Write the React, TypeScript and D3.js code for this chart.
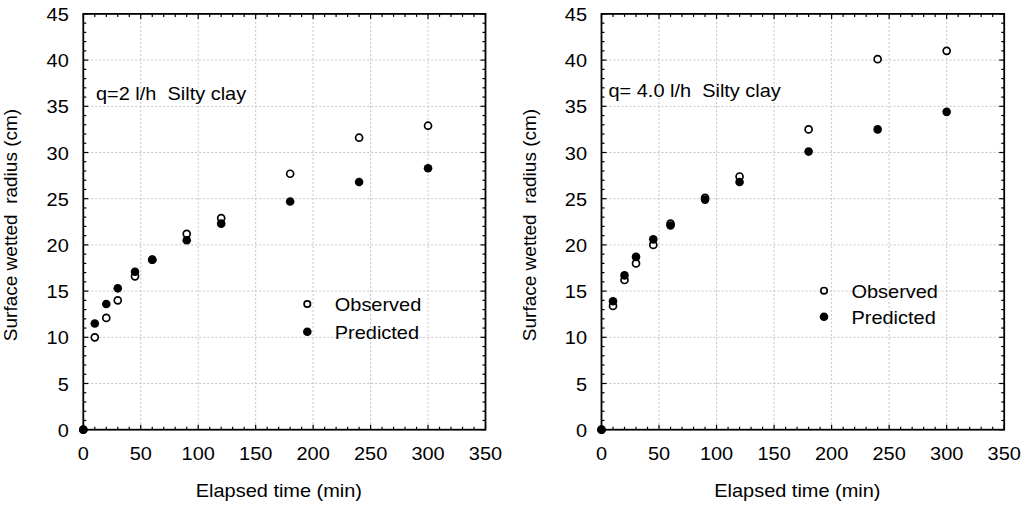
import React from "react";
import * as d3 from "d3";

const times = [0, 10, 20, 30, 45, 60, 90, 120, 180, 240, 300];
const obsLeft = [0, 10.0, 12.1, 14.0, 16.6, 18.4, 21.2, 22.9, 27.7, 31.6, 32.9];
const predLeft = [0, 11.5, 13.6, 15.3, 17.1, 18.4, 20.5, 22.3, 24.7, 26.8, 28.3];
const obsRight = [0, 13.4, 16.2, 18.0, 20.0, 22.3, 25.1, 27.4, 32.5, 40.1, 41.0];
const predRight = [0, 13.9, 16.7, 18.7, 20.6, 22.1, 24.9, 26.8, 30.1, 32.5, 34.4];
const xTicks = [0, 50, 100, 150, 200, 250, 300, 350];
const yTicks = [0, 5, 10, 15, 20, 25, 30, 35, 40, 45];
const xTitle = "Elapsed time (min)";
const yTitle = "Surface wetted  radius (cm)";
const legendLabels = ["Observed", "Predicted"];

const FONT = "'Liberation Sans', Arial, Helvetica, sans-serif";
const FS = 19;
const SX = 1.05;

function HText(props: { x: number; y: number; anchor?: string; children: React.ReactNode }) {
  return (
    <text transform={`translate(${props.x},${props.y}) scale(${SX},1)`}
      textAnchor={props.anchor || "start"} fontFamily={FONT} fontSize={FS} fill="#000"
      style={{ whiteSpace: "pre" }}>{props.children}</text>
  );
}

type PanelProps = {
  left: number;
  right: number;
  obs: number[];
  pred: number[];
  note: string;
  noteX: number;
  noteY: number;
  legX: number;
  legY: number;
  legGap: number;
};

function Panel(p: PanelProps) {
  const top = 13.9;
  const bottom = 429.7;
  const x = d3.scaleLinear().domain([0, 350]).range([p.left, p.right]);
  const y = d3.scaleLinear().domain([0, 45]).range([bottom, top]);
  const minorX = d3.range(0, 351, 10);
  const minorY = d3.range(0, 46, 1);
  const grid = "#c4c4c4";
  const rOpen = 3.5;
  const rFill = 4.3;
  return (
    <g>
      {xTicks.filter((t) => t > 0 && t < 350).map((t) => (
        <line key={"gx" + t} x1={x(t)} x2={x(t)} y1={top} y2={bottom}
          stroke={grid} strokeWidth={1} strokeDasharray="2,2" />
      ))}
      {yTicks.filter((t) => t > 0 && t < 45).map((t) => (
        <line key={"gy" + t} x1={p.left} x2={p.right} y1={y(t)} y2={y(t)}
          stroke={grid} strokeWidth={1} strokeDasharray="2,2" />
      ))}
      {minorX.map((t) => {
        const L = t % 50 === 0 ? 5 : 3;
        return (
          <g key={"tx" + t}>
            <line x1={x(t)} x2={x(t)} y1={bottom} y2={bottom - L} stroke="#000" strokeWidth={1.2} />
            <line x1={x(t)} x2={x(t)} y1={top} y2={top + L} stroke="#000" strokeWidth={1.2} />
          </g>
        );
      })}
      {minorY.map((t) => {
        const L = t % 5 === 0 ? 5 : 3;
        return (
          <g key={"ty" + t}>
            <line x1={p.left} x2={p.left + L} y1={y(t)} y2={y(t)} stroke="#000" strokeWidth={1.2} />
            <line x1={p.right} x2={p.right - L} y1={y(t)} y2={y(t)} stroke="#000" strokeWidth={1.2} />
          </g>
        );
      })}
      <rect x={p.left} y={top} width={p.right - p.left} height={bottom - top}
        fill="none" stroke="#000" strokeWidth={1.8} />
      {xTicks.map((t) => (
        <HText key={"lx" + t} x={x(t)} y={459.5} anchor="middle">{t}</HText>
      ))}
      {yTicks.map((t) => (
        <HText key={"ly" + t} x={p.left - 14.5} y={y(t) + 7} anchor="end">{t}</HText>
      ))}
      <HText x={(p.left + p.right) / 2 - 5.5} y={497} anchor="middle">{xTitle}</HText>
      <text transform={`translate(${p.left - 66},${225}) rotate(-90)`} textAnchor="middle"
        fontFamily={FONT} fontSize={FS} fill="#000" style={{ whiteSpace: "pre" }}>{yTitle}</text>
      <HText x={p.noteX} y={p.noteY}>{p.note}</HText>
      {times.map((t, i) => (
        <circle key={"o" + i} cx={x(t)} cy={y(p.obs[i])} r={rOpen}
          fill="#fff" stroke="#000" strokeWidth={1.7} />
      ))}
      {times.map((t, i) => (
        <circle key={"p" + i} cx={x(t)} cy={y(p.pred[i])} r={rFill} fill="#000" />
      ))}
      <circle cx={p.legX} cy={p.legY} r={rOpen - 0.3} fill="#fff" stroke="#000" strokeWidth={1.7} />
      <circle cx={p.legX} cy={p.legY + p.legGap} r={rFill} fill="#000" />
      <HText x={p.legX + 27.5} y={p.legY + 7}>{legendLabels[0]}</HText>
      <HText x={p.legX + 27.5} y={p.legY + p.legGap + 7}>{legendLabels[1]}</HText>
    </g>
  );
}

export default function App() {
  return (
    <svg width={1021} height={505} style={{ position: "absolute", left: 0, top: 0, background: "#fff" }}>
      <rect x={0} y={0} width={1021} height={505} fill="#fff" />
      <Panel left={83.3} right={485.5} obs={obsLeft} pred={predLeft}
        note={"q=2 l/h  Silty clay"} noteX={96} noteY={100}
        legX={307.3} legY={304} legGap={27.7} />
      <Panel left={601.5} right={1004.2} obs={obsRight} pred={predRight}
        note={"q= 4.0 l/h  Silty clay"} noteX={608.5} noteY={96.5}
        legX={824} legY={290.7} legGap={26} />
    </svg>
  );
}
